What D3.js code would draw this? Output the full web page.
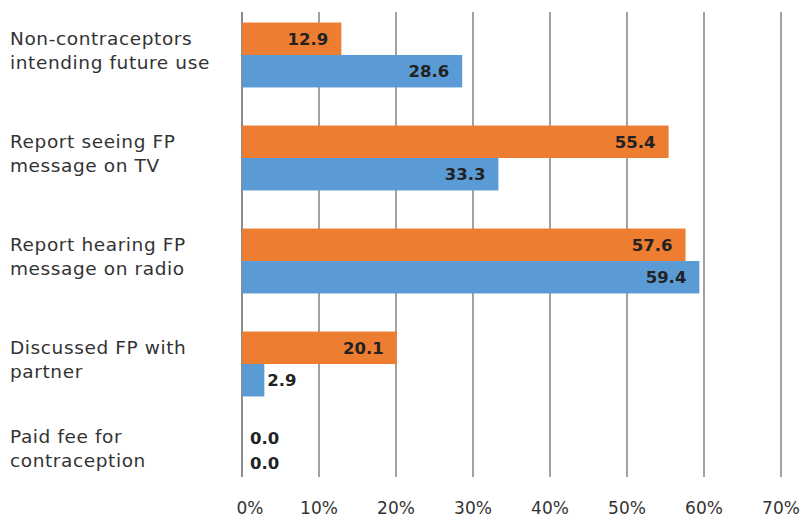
<!DOCTYPE html>
<html>
<head>
<meta charset="utf-8">
<script src="https://cdn.jsdelivr.net/npm/d3@7"></script>
<style>
  body { margin: 0; background: #fff; }
  svg { display: block; }
  .cat-label { font-family: "DejaVu Sans", sans-serif; font-size: 18.5px; fill: #333; letter-spacing: 0.6px; }
  .value-label { font-family: "DejaVu Sans", sans-serif; font-size: 16.5px; font-weight: bold; fill: #222; }
  .tick-label { font-family: "DejaVu Sans", sans-serif; font-size: 17px; fill: #333; }
</style>
</head>
<body>
<div id="chart"></div>
<script>
// categories, top to bottom
var categories = [
  "Non-contraceptors\nintending future use",
  "Report seeing FP\nmessage on TV",
  "Report hearing FP\nmessage on radio",
  "Discussed FP with\npartner",
  "Paid fee for\ncontraception"
];
var seriesNames = ["orange", "blue"];
var orangeValues = [12.9, 55.4, 57.6, 20.1, 0.0];
var blueValues = [28.6, 33.3, 59.4, 2.9, 0.0];
var xTicks = [0, 10, 20, 30, 40, 50, 60, 70];

var colors = { orange: "#ed7d31", blue: "#5b9bd5" };

var w = 800, h = 518;
var gridTop = 12, gridBottom = 477;

var rows = categories.map(function(c, i) {
  return { cat: c, values: [
    { series: "orange", value: orangeValues[i] },
    { series: "blue", value: blueValues[i] }
  ]};
});

var svg = d3.select("#chart").append("svg")
  .attr("width", w)
  .attr("height", h);

var x = d3.scaleLinear().domain([0, 70]).range([242, 781]);

var y = d3.scaleBand()
  .domain(categories)
  .range([3.5, 518.5])
  .paddingInner(0.37)
  .paddingOuter(0.185);

var ySub = d3.scaleBand()
  .domain(seriesNames)
  .range([0, y.bandwidth()]);

// vertical grid lines
svg.append("g").attr("class", "grid")
  .selectAll("line")
  .data(xTicks)
  .enter()
  .append("line")
  .attr("x1", function(d) { return x(d); })
  .attr("x2", function(d) { return x(d); })
  .attr("y1", gridTop)
  .attr("y2", gridBottom)
  .attr("stroke", function(d) { return d === 0 ? "#8c8c8c" : "#7a7a7a"; })
  .attr("stroke-width", function(d) { return d === 0 ? 2 : 1.4; });

// tick labels
svg.append("g")
  .selectAll("text")
  .data(xTicks)
  .enter()
  .append("text")
  .attr("class", "tick-label")
  .attr("x", function(d) { return x(d) + (d === 0 ? 8 : 0); })
  .attr("y", 508)
  .attr("dy", "0.36em")
  .attr("text-anchor", "middle")
  .text(function(d) { return d + "%"; });

var group = svg.selectAll(".group")
  .data(rows)
  .enter()
  .append("g")
  .attr("class", "group")
  .attr("transform", function(d) { return "translate(0," + y(d.cat) + ")"; });

group.selectAll("rect")
  .data(function(d) { return d.values; })
  .enter()
  .append("rect")
  .attr("x", x(0))
  .attr("y", function(d) { return ySub(d.series); })
  .attr("width", function(d) { return x(d.value) - x(0); })
  .attr("height", ySub.bandwidth())
  .attr("fill", function(d) { return colors[d.series]; });

// value labels: inside the bar when it is long enough, otherwise just past its end
group.each(function(row) {
  var g = d3.select(this);
  var top = y(row.cat);
  row.values.forEach(function(d, i) {
    var barEnd = x(d.value);
    var inside = barEnd - x(0) > 55;
    var cy = top + ySub(d.series) + ySub.bandwidth() / 2;
    // keep labels of empty bars above the axis
    cy = Math.min(cy, gridBottom - 14 - (1 - i) * 25) - top;
    g.append("text")
      .attr("class", "value-label")
      .attr("x", inside ? barEnd - 13 : Math.max(barEnd + 3, x(0) + 8))
      .attr("y", cy)
      .attr("dy", "0.36em")
      .attr("text-anchor", inside ? "end" : "start")
      .text(d3.format(".1f")(d.value));
  });
});

// category labels, two lines each
svg.append("g")
  .selectAll("text")
  .data(categories)
  .enter()
  .append("text")
  .attr("class", "cat-label")
  .attr("x", 10)
  .attr("y", function(d) {
    var c = y(d) + y.bandwidth() / 2 - 5;
    return Math.min(c, gridBottom - 29);
  })
  .each(function(d) {
    var lines = d.split("\n");
    var t = d3.select(this);
    var cy = +t.attr("y");
    lines.forEach(function(line, i) {
      t.append("tspan")
        .attr("x", 10)
        .attr("y", cy + (i - (lines.length - 1) / 2) * 24)
        .attr("dy", "0.36em")
        .text(line);
    });
  });
</script>
</body>
</html>
